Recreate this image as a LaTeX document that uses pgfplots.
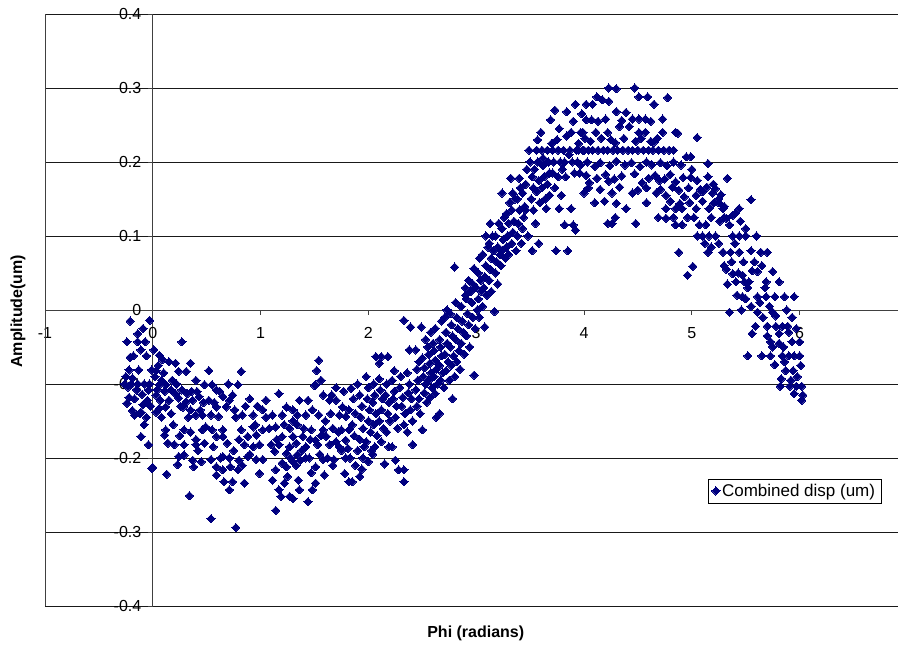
\documentclass[border=0pt]{standalone}
\usepackage{pgfplots}
\pgfplotsset{compat=1.18}
\usepackage{fontspec}
\setmainfont{Liberation Sans}
\definecolor{navy}{HTML}{000080}

\begin{document}
\begin{tikzpicture}
\begin{axis}[
  scale only axis, width=853pt, height=592pt,
  xmin=-1, xmax=6.913, ymin=-0.4, ymax=0.4,
  axis x line=middle, axis y line=middle,
  axis line style={-, black!75, line width=0.8pt},
  hide obscured x ticks=false, hide obscured y ticks=false,
  xtick={-1,0,1,2,3,4,5,6},
  ytick={-0.4,-0.3,-0.2,-0.1,0,0.1,0.2,0.3,0.4},
  ymajorgrids, major grid style={black!90, line width=0.8pt},
  tick style={black!75, line width=0.8pt},
  major tick length=5pt,
  xtick align=outside, ytick align=outside,
  /pgf/number format/assume math mode=true,
  ticklabel style={font=\fontsize{16}{19}\selectfont},
  xticklabel style={yshift=-9pt},
  yticklabel style={xshift=-3pt},
  every axis x label/.style={at={(rel axis cs:0.505,0)}, anchor=center, yshift=-27pt},
  every axis y label/.style={at={(rel axis cs:0,0.498)}, xshift=-27pt, anchor=center, rotate=90},
  label style={font=\fontsize{16}{19}\selectfont\bfseries},
  xlabel={Phi (radians)},
  ylabel={Amplitude(um)},
  legend style={at={(axis cs:5.146,-0.228)}, anchor=north west, draw=black, line width=0.6pt,
    font=\fontsize{17}{20}\selectfont, inner xsep=4pt, inner ysep=3pt},
  legend cell align=left,
]
\addplot[only marks, mark=square*, mark size=2.9pt,
  mark options={rotate=45, fill=navy, draw=navy, line width=0pt}]
coordinates {
% phi < 0
(-0.21,-0.015) (-0.03,-0.014) (-0.09,-0.025) (-0.14,-0.032) (-0.24,-0.043) (-0.14,-0.043) (-0.07,-0.043)
(-0.11,-0.054) (-0.18,-0.062) (-0.06,-0.062) (-0.21,-0.064) (-0.22,-0.081) (-0.13,-0.081) (-0.01,-0.081)
(-0.25,-0.09) (-0.19,-0.092) (-0.26,-0.1) (-0.2,-0.1) (-0.14,-0.1) (-0.08,-0.1) (-0.03,-0.1)
(-0.22,-0.118) (-0.17,-0.12) (-0.1,-0.114) (-0.05,-0.122) (-0.02,-0.13) (-0.24,-0.126) (-0.19,-0.136)
(-0.12,-0.14) (-0.06,-0.145) (-0.17,-0.142) (-0.11,-0.138) (-0.11,-0.171) (-0.04,-0.182) (-0.01,-0.214)
(-0.08,-0.155) (-0.15,-0.108) (-0.23,-0.104) (-0.04,-0.108) (-0.09,-0.128)
% 0 to 0.5
(0.01,-0.054) (0.06,-0.061) (0.09,-0.067) (0.15,-0.07) (0.21,-0.072) (0.27,-0.043) (0.35,-0.072)
(0.24,-0.083) (0.31,-0.083) (0.03,-0.082) (0.06,-0.101) (0.12,-0.101) (0.04,-0.108) (0.03,-0.115)
(0.11,-0.11) (0.17,-0.108) (0.21,-0.113) (0.27,-0.108) (0.32,-0.113) (0.40,-0.095) (0.41,-0.11)
(0.48,-0.101) (0.07,-0.122) (0.15,-0.122) (0.24,-0.119) (0.31,-0.124) (0.37,-0.122) (0.43,-0.117)
(0.06,-0.133) (0.12,-0.131) (0.17,-0.14) (0.28,-0.131) (0.35,-0.135)
(0.40,-0.142) (0.46,-0.142) (0.12,-0.162) (0.11,-0.169) (0.29,-0.162) (0.2,-0.182) (0.29,-0.182)
(0.40,-0.182) (0.48,-0.18) (0.24,-0.198) (0.29,-0.196) (0.37,-0.203) (0.23,-0.209) (0.13,-0.222)
(0.34,-0.251) (0.46,-0.162) (0.40,-0.175) (0.0,-0.213)
(0.02,-0.09) (0.05,-0.075) (0.08,-0.095) (0.1,-0.085) (0.18,-0.095) (0.22,-0.1) (0.26,-0.13)
(0.33,-0.145) (0.36,-0.11) (0.44,-0.135) (0.47,-0.125) (0.08,-0.145) (0.19,-0.155) (0.25,-0.17)
(0.35,-0.165) (0.42,-0.19) (0.45,-0.205) (0.14,-0.18) (0.03,-0.138)
% 0.5 to 1
(0.52,-0.082) (0.55,-0.101) (0.59,-0.108) (0.65,-0.117) (0.71,-0.122) (0.79,-0.101) (0.82,-0.083)
(0.52,-0.122) (0.59,-0.131) (0.68,-0.131) (0.76,-0.135) (0.83,-0.142) (0.93,-0.142) (1.02,-0.135)
(0.54,-0.142) (0.61,-0.144) (0.49,-0.158) (0.55,-0.162) (0.65,-0.162) (0.82,-0.162) (0.93,-0.158)
(1.02,-0.162) (0.59,-0.171) (0.65,-0.171) (0.88,-0.171) (0.96,-0.169) (0.85,-0.182) (0.93,-0.185)
(0.99,-0.182) (1.1,-0.182) (0.54,-0.202) (0.65,-0.198) (0.71,-0.2) (0.80,-0.203) (0.88,-0.198)
(0.96,-0.202) (1.02,-0.202) (0.59,-0.212) (0.65,-0.216) (0.72,-0.212) (0.79,-0.216) (0.59,-0.223)
(0.66,-0.232) (0.74,-0.232) (0.71,-0.243) (0.85,-0.234) (0.99,-0.221) (0.54,-0.282) (0.77,-0.294)
(0.38,-0.212)
(0.57,-0.125) (0.62,-0.11) (0.70,-0.1) (0.74,-0.115) (0.77,-0.145) (0.86,-0.13) (0.9,-0.12)
(0.95,-0.155) (0.69,-0.18) (0.75,-0.19) (0.83,-0.21) (0.9,-0.195) (0.97,-0.13) (0.63,-0.2)
(0.56,-0.185) (0.8,-0.175)
% 1 to 1.8
(1.17,-0.113) (1.05,-0.122) (1.24,-0.131) (1.30,-0.135) (1.36,-0.122) (1.44,-0.122) (1.48,-0.135)
(1.51,-0.101) (1.52,-0.082) (1.54,-0.068) (1.56,-0.095) (1.64,-0.122) (1.70,-0.122) (1.76,-0.131)
(1.82,-0.135) (1.11,-0.142) (1.2,-0.142) (1.34,-0.142) (1.42,-0.142) (1.54,-0.142) (1.65,-0.14)
(1.73,-0.142) (1.79,-0.144) (1.14,-0.158) (1.27,-0.16) (1.34,-0.155) (1.47,-0.162) (1.58,-0.162)
(1.67,-0.16) (1.75,-0.162) (1.82,-0.162) (1.2,-0.171) (1.3,-0.171) (1.39,-0.171) (1.51,-0.176)
(1.61,-0.171) (1.7,-0.178) (1.79,-0.176) (1.17,-0.182) (1.27,-0.185) (1.33,-0.18) (1.42,-0.185)
(1.53,-0.182) (1.64,-0.182) (1.73,-0.185) (1.81,-0.187) (1.13,-0.191) (1.24,-0.194) (1.34,-0.196)
(1.45,-0.2) (1.58,-0.202) (1.68,-0.202) (1.79,-0.2) (1.2,-0.207) (1.3,-0.205) (1.37,-0.203)
(1.14,-0.216) (1.24,-0.212) (1.59,-0.223) (1.51,-0.212) (1.78,-0.221) (1.11,-0.23) (1.22,-0.234)
(1.17,-0.243) (1.19,-0.252) (1.30,-0.255) (1.36,-0.243) (1.27,-0.252) (1.44,-0.259) (1.48,-0.243)
(1.51,-0.234) (1.14,-0.271) (1.82,-0.232) (1.50,-0.102)
(1.05,-0.145) (1.08,-0.16) (1.15,-0.175) (1.22,-0.155) (1.28,-0.2) (1.33,-0.21) (1.38,-0.19)
(1.42,-0.2) (1.47,-0.22) (1.55,-0.195) (1.6,-0.15) (1.62,-0.2) (1.67,-0.21) (1.72,-0.165)
(1.75,-0.19) (1.77,-0.11) (1.7,-0.105) (1.66,-0.115) (1.58,-0.115) (1.4,-0.16) (1.3,-0.15)
(1.25,-0.225) (1.35,-0.23) (1.46,-0.175) (1.56,-0.17)
% 1.8 to 2.45
(1.84,-0.106) (1.86,-0.12) (1.88,-0.14) (1.85,-0.155) (1.87,-0.17) (1.9,-0.19) (1.83,-0.2) (1.88,-0.21) (1.85,-0.232) (1.92,-0.225)
(1.9,-0.1) (1.92,-0.115) (1.94,-0.13) (1.93,-0.145) (1.95,-0.16) (1.92,-0.175) (1.96,-0.185) (1.95,-0.2) (1.94,-0.215)
(1.98,-0.09) (2.0,-0.105) (1.99,-0.12) (2.01,-0.135) (2.0,-0.15) (2.02,-0.165) (1.98,-0.178) (2.03,-0.19) (2.0,-0.205)
(2.05,-0.1) (2.06,-0.115) (2.04,-0.125) (2.07,-0.14) (2.05,-0.155) (2.08,-0.17) (2.06,-0.185) (2.04,-0.195)
(2.07,-0.063) (2.1,-0.072) (2.12,-0.063) (2.18,-0.063) (2.24,-0.082) (2.1,-0.093) (2.11,-0.108) (2.13,-0.12) (2.12,-0.135) (2.1,-0.15) (2.14,-0.16) (2.12,-0.178) (2.15,-0.208)
(2.17,-0.1) (2.16,-0.115) (2.19,-0.125) (2.18,-0.14) (2.2,-0.15) (2.19,-0.185) (2.22,-0.185) (2.17,-0.165)
(2.22,-0.095) (2.24,-0.11) (2.23,-0.12) (2.26,-0.13) (2.25,-0.145) (2.27,-0.16) (2.25,-0.203) (2.28,-0.216) (2.33,-0.216) (2.33,-0.232)
(2.3,-0.09) (2.29,-0.105) (2.32,-0.118) (2.31,-0.13) (2.34,-0.14) (2.33,-0.155) (2.36,-0.165) (2.33,-0.014) (2.38,-0.054) (2.39,-0.023)
(2.36,-0.085) (2.38,-0.1) (2.37,-0.112) (2.4,-0.12) (2.39,-0.135) (2.41,-0.15) (2.41,-0.182) (2.44,-0.054)
% 2.45 to 3
(2.45,-0.08) (2.46,-0.095) (2.44,-0.108) (2.47,-0.12) (2.45,-0.13) (2.48,-0.14) (2.49,-0.023) (2.5,-0.162) (2.47,-0.07)
(2.5,-0.065) (2.52,-0.078) (2.51,-0.09) (2.53,-0.1) (2.52,-0.112) (2.54,-0.125) (2.53,-0.04) (2.55,-0.05)
(2.56,-0.06) (2.57,-0.072) (2.58,-0.085) (2.56,-0.095) (2.59,-0.105) (2.57,-0.118) (2.58,-0.03) (2.6,-0.045)
(2.61,-0.055) (2.62,-0.068) (2.63,-0.08) (2.61,-0.09) (2.64,-0.1) (2.62,-0.113) (2.63,-0.145) (2.66,-0.14) (2.62,-0.025)
(2.66,-0.04) (2.67,-0.05) (2.68,-0.062) (2.66,-0.075) (2.69,-0.085) (2.67,-0.095) (2.7,-0.105) (2.68,-0.015)
(2.71,-0.01) (2.72,-0.03) (2.73,-0.045) (2.71,-0.06) (2.74,-0.07) (2.72,-0.082) (2.75,-0.095) (2.73,0.0)
(2.76,-0.005) (2.77,-0.02) (2.78,-0.035) (2.76,-0.05) (2.79,-0.062) (2.77,-0.075) (2.78,-0.12) (2.8,-0.09)
(2.81,0.01) (2.82,-0.01) (2.83,-0.025) (2.81,-0.04) (2.84,-0.055) (2.82,-0.07) (2.85,-0.08) (2.8,0.058)
(2.86,0.005) (2.87,-0.015) (2.88,-0.03) (2.86,-0.045) (2.89,-0.06) (2.9,0.02) (2.9,0.03)
(2.91,0.015) (2.92,-0.005) (2.93,-0.02) (2.91,-0.035) (2.94,-0.05) (2.95,0.025) (2.93,0.04)
(2.96,0.01) (2.97,-0.01) (2.98,-0.088) (2.98,0.056) (2.99,-0.025) (2.97,0.035)
% 3 to 3.5
(3.01,0.0) (3.02,0.015) (3.03,-0.01) (3.0,0.03) (3.04,0.04) (3.03,0.07) (3.05,0.025) (3.06,0.005) (3.02,0.05)
(3.07,0.03) (3.08,0.045) (3.09,0.06) (3.06,0.075) (3.1,0.02) (3.09,0.1) (3.11,0.085) (3.08,-0.023)
(3.12,0.04) (3.13,0.055) (3.14,0.07) (3.12,0.09) (3.15,0.1) (3.13,0.117) (3.16,0.08) (3.17,-0.002) (3.14,0.025)
(3.18,0.05) (3.19,0.065) (3.2,0.085) (3.18,0.1) (3.21,0.117) (3.22,0.075) (3.2,0.035)
(3.23,0.06) (3.24,0.08) (3.25,0.095) (3.24,0.11) (3.26,0.125) (3.24,0.158) (3.27,0.07)
(3.28,0.085) (3.29,0.1) (3.3,0.117) (3.28,0.13) (3.31,0.145) (3.3,0.075) (3.32,0.178)
(3.33,0.09) (3.34,0.105) (3.35,0.12) (3.33,0.135) (3.36,0.15) (3.34,0.158) (3.37,0.08)
(3.38,0.1) (3.39,0.117) (3.4,0.135) (3.38,0.15) (3.41,0.165) (3.4,0.178) (3.42,0.09)
(3.43,0.11) (3.44,0.125) (3.45,0.14) (3.43,0.158) (3.46,0.17) (3.47,0.19) (3.46,0.135) (3.48,0.1)
% 3.5 to 4
(3.49,0.216) (3.5,0.2) (3.52,0.08) (3.51,0.15) (3.53,0.165) (3.52,0.18) (3.54,0.19) (3.55,0.117) (3.53,0.135)
(3.56,0.216) (3.57,0.2) (3.58,0.175) (3.56,0.16) (3.59,0.145) (3.58,0.09) (3.6,0.24) (3.57,0.23)
(3.61,0.216) (3.62,0.195) (3.63,0.18) (3.61,0.165) (3.64,0.15) (3.65,0.137) (3.62,0.205)
(3.66,0.216) (3.67,0.2) (3.68,0.185) (3.66,0.17) (3.69,0.257) (3.68,0.155) (3.7,0.225)
(3.71,0.216) (3.72,0.2) (3.73,0.27) (3.71,0.185) (3.74,0.08) (3.73,0.165) (3.75,0.23)
(3.76,0.216) (3.77,0.137) (3.78,0.2) (3.76,0.18) (3.79,0.155) (3.77,0.245) (3.8,0.19)
(3.81,0.216) (3.82,0.115) (3.84,0.268) (3.82,0.2) (3.83,0.18) (3.85,0.08) (3.84,0.235) (3.86,0.21)
(3.87,0.216) (3.88,0.137) (3.89,0.2) (3.9,0.115) (3.88,0.24) (3.91,0.185) (3.92,0.278) (3.9,0.255)
(3.93,0.216) (3.94,0.2) (3.95,0.225) (3.96,0.185) (3.97,0.24) (3.98,0.265) (3.99,0.216) (3.92,0.108)
% 4 to 5
(4.23,0.3) (4.30,0.299) (4.47,0.3) (4.12,0.288) (4.17,0.284) (4.23,0.282) (4.51,0.288) (4.59,0.288)
(4.775,0.287) (4.02,0.278) (4.08,0.278) (4.65,0.278) (4.30,0.268) (4.39,0.267)
(4.02,0.257) (4.07,0.257) (4.13,0.255) (4.20,0.258) (4.35,0.256) (4.45,0.258) (4.51,0.258) (4.57,0.258) (4.62,0.255) (4.73,0.258)
(3.99,0.24) (4.11,0.24) (4.22,0.24) (4.33,0.248) (4.42,0.248) (4.51,0.24) (4.57,0.24) (4.73,0.24) (4.85,0.24) (5.05,0.233) (4.87,0.239)
(4.01,0.232) (4.06,0.228) (4.16,0.232) (4.25,0.23) (4.29,0.226) (4.37,0.232) (4.48,0.228) (4.53,0.232) (4.62,0.228) (4.65,0.227) (4.68,0.232)
(3.95,0.216) (4.0,0.216) (4.04,0.216) (4.08,0.216) (4.13,0.216) (4.18,0.216) (4.22,0.216) (4.27,0.216) (4.31,0.216) (4.36,0.216)
(4.41,0.216) (4.45,0.216) (4.5,0.216) (4.55,0.216) (4.6,0.216) (4.64,0.216) (4.69,0.216) (4.74,0.216) (4.79,0.216) (4.83,0.216)
(4.95,0.207) (4.99,0.207) (5.15,0.198)
(3.97,0.196) (4.03,0.2) (4.1,0.194) (4.15,0.199) (4.24,0.195) (4.3,0.201) (4.38,0.196) (4.44,0.199) (4.52,0.194) (4.58,0.2)
(4.63,0.196) (4.71,0.199) (4.77,0.195) (4.83,0.2) (4.9,0.196)
(4.02,0.182) (4.12,0.178) (4.2,0.183) (4.28,0.177) (4.35,0.181) (4.47,0.184) (4.6,0.178) (4.66,0.182) (4.75,0.177) (4.8,0.183) (4.92,0.179)
(4.05,0.172) (4.23,0.174) (4.54,0.172) (4.7,0.175) (4.85,0.173) (4.99,0.179) (5.33,0.178)
(4.04,0.165) (4.15,0.163) (4.33,0.166) (4.5,0.162) (4.58,0.165) (4.71,0.163) (4.82,0.166) (4.88,0.162) (4.97,0.165) (5.08,0.163) (5.14,0.166) (5.22,0.164)
(4.0,0.158) (4.26,0.158) (4.45,0.158) (4.67,0.158) (4.76,0.155) (4.93,0.153) (5.04,0.155) (5.19,0.158) (5.27,0.156)
(4.1,0.145) (4.19,0.147) (4.3,0.144) (4.58,0.145) (4.8,0.147) (4.89,0.144) (4.98,0.145) (5.1,0.147) (5.2,0.144) (5.25,0.145)
(4.39,0.137) (4.76,0.137) (4.85,0.137) (4.91,0.137) (5.04,0.137) (5.16,0.137) (5.29,0.137) (5.44,0.137)
(4.29,0.125) (4.69,0.125) (4.83,0.125) (4.96,0.125) (5.02,0.125) (5.18,0.125) (5.3,0.125) (4.76,0.124) (5.32,0.124) (5.26,0.12)
(4.22,0.117) (4.26,0.117) (4.48,0.117) (4.85,0.115) (4.91,0.115) (5.07,0.115) (5.13,0.115)
% 5 to 6.05
(5.1,0.1) (5.16,0.1) (5.22,0.1) (5.38,0.1) (5.44,0.1) (5.5,0.1)
(4.88,0.078) (5.15,0.078) (5.29,0.078) (5.36,0.078) (5.44,0.078) (5.64,0.078) (5.7,0.078)
(5.01,0.059) (4.96,0.047)
(5.32,0.055) (5.38,0.049) (5.47,0.047) (5.56,0.053) (5.61,0.052) (5.75,0.052)
(5.41,0.038) (5.49,0.038) (5.53,0.038) (5.69,0.038) (5.81,0.038)
(5.47,0.018) (5.61,0.018) (5.69,0.018) (5.77,0.018) (5.86,0.018) (5.95,0.018)
(5.0,0.19) (5.05,0.175) (5.1,0.16) (5.15,0.18) (5.2,0.17) (5.25,0.15) (5.3,0.14) (5.05,0.1) (5.12,0.09) (5.18,0.085)
(5.25,0.09) (5.3,0.06) (5.33,0.035) (5.37,0.065) (5.4,0.09) (5.43,0.05) (5.35,0.115) (5.4,0.13) (5.45,0.12) (5.5,0.11)
(5.48,0.065) (5.52,0.03) (5.55,0.08) (5.58,0.065) (5.6,0.1) (5.65,0.06) (5.68,0.03) (5.72,0.005) (5.55,0.005) (5.5,0.015)
(5.42,0.02) (5.63,0.01) (5.66,-0.01) (5.7,-0.035) (5.75,-0.05) (5.85,-0.05) (5.9,-0.03) (5.88,0.0) (5.93,-0.01) (5.97,-0.025)
(6.01,-0.075) (5.98,-0.09) (6.03,-0.115) (5.92,-0.095) (5.86,-0.07) (5.55,0.149) (5.38,0.128)
(5.35,-0.003) (5.46,0.0) (5.61,-0.003) (5.75,-0.003) (5.78,-0.008) (5.59,-0.022) (5.7,-0.022) (5.78,-0.022) (5.84,-0.022)
(5.89,-0.022) (5.56,-0.032) (5.81,-0.032) (5.73,-0.043) (5.81,-0.045) (5.93,-0.043) (6.0,-0.043) (5.52,-0.062) (5.65,-0.062)
(5.73,-0.062) (5.84,-0.062) (5.9,-0.062) (5.95,-0.062) (6.0,-0.062) (5.77,-0.074) (5.87,-0.082) (5.94,-0.082) (5.83,-0.093)
(5.82,-0.103) (5.91,-0.103) (5.97,-0.103) (6.02,-0.103) (5.95,-0.113) (6.02,-0.122)
};
\addlegendentry{Combined disp (um)}
\end{axis}
% left frame edge of the plot area
\draw[black!75, line width=0.8pt] (current axis.south west) -- (current axis.north west);
\pgfresetboundingbox
\path[use as bounding box] ([xshift=-45pt,yshift=-40pt]current axis.south west) rectangle ([yshift=14pt]current axis.north east);
\end{tikzpicture}
\end{document}
